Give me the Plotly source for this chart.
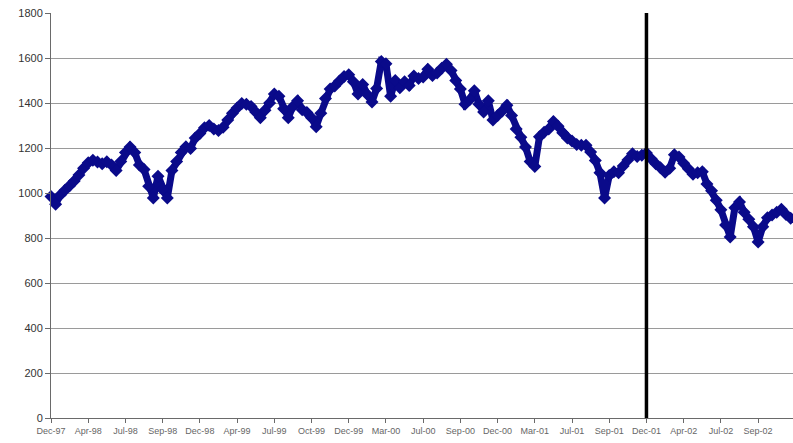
import plotly.graph_objects as go

# Category labels shown on the x axis (one every 8 samples)
tick_labels = ["Dec-97", "Apr-98", "Jul-98", "Sep-98", "Dec-98", "Apr-99", "Jul-99",
               "Oct-99", "Dec-99", "Mar-00", "Jul-00", "Sep-00", "Dec-00", "Mar-01",
               "Jul-01", "Sep-01", "Dec-01", "Apr-02", "Jul-02", "Sep-02"]
samples_per_label = 8

# Index level (equally spaced samples)
index_values = [
    985, 950, 991, 1012, 1032, 1053, 1080, 1110,
    1135, 1146, 1138, 1130, 1139, 1125, 1100, 1140,
    1180, 1205, 1180, 1125, 1105, 1030, 978, 1075,
    1015, 978, 1100, 1140, 1180, 1206, 1198, 1245,
    1265, 1290, 1300, 1285, 1278, 1292, 1325, 1355,
    1378, 1398, 1394, 1385, 1360, 1335, 1368, 1400,
    1440, 1430, 1375, 1335, 1385, 1410, 1370, 1358,
    1335, 1295, 1354, 1420, 1462, 1476, 1498, 1518,
    1526, 1495, 1440, 1482, 1438, 1405, 1465, 1585,
    1575, 1430, 1500, 1468, 1495, 1478, 1520, 1509,
    1516, 1550, 1522, 1533, 1555, 1572, 1545, 1500,
    1462, 1395, 1415, 1455, 1395, 1360, 1410, 1325,
    1344, 1365, 1390, 1345, 1285, 1248, 1205, 1140,
    1118, 1250, 1270, 1285, 1318, 1297, 1268, 1244,
    1231, 1216, 1212, 1212, 1182, 1145, 1090, 978,
    1078, 1094, 1090, 1120, 1147, 1175, 1162, 1168,
    1178, 1152, 1130, 1112, 1092, 1110, 1170, 1160,
    1132, 1108, 1083, 1090, 1095, 1040, 1010, 968,
    926, 858, 805, 935, 960, 915, 883, 850,
    782, 850, 890, 902, 915, 928, 905, 888,
]

y_ticks = [0, 200, 400, 600, 800, 1000, 1200, 1400, 1600, 1800]
marker_label = "Dec-01"

x_idx = list(range(len(index_values)))
tickvals = [k * samples_per_label for k in range(len(tick_labels))]
line_x = tick_labels.index(marker_label) * samples_per_label

color = "#0a0a8a"
fig = go.Figure()
fig.add_trace(go.Scatter(
    x=x_idx, y=index_values, mode="lines+markers",
    line=dict(color=color, width=7),
    marker=dict(symbol="diamond", size=10, color=color),
    cliponaxis=False, hoverinfo="y", showlegend=False,
))

fig.add_shape(type="line", xref="x", yref="y", x0=line_x, x1=line_x,
              y0=0, y1=1800, line=dict(color="black", width=3.5))

fig.update_layout(
    width=793, height=443,
    margin=dict(l=51, r=0, t=13, b=25),
    paper_bgcolor="white", plot_bgcolor="white",
    font=dict(family="Liberation Sans, Arial, sans-serif"),
)
fig.update_xaxes(
    range=[0, 159.5], tickvals=tickvals, ticktext=tick_labels,
    showgrid=False, showline=True, linecolor="#6a6a6a", linewidth=1,
    ticks="outside", ticklen=4, tickcolor="#6a6a6a",
    tickfont=dict(size=9, color="#666666"), tickangle=0, zeroline=False,
)
fig.update_yaxes(
    range=[0, 1800], tickvals=y_ticks,
    showgrid=True, gridcolor="#9a9a9a", gridwidth=1,
    showline=True, linecolor="#6a6a6a", linewidth=1,
    ticks="outside", ticklen=5, tickcolor="#6a6a6a",
    tickfont=dict(size=11, color="#333333"), zeroline=False,
)

fig.write_html("out.html")
